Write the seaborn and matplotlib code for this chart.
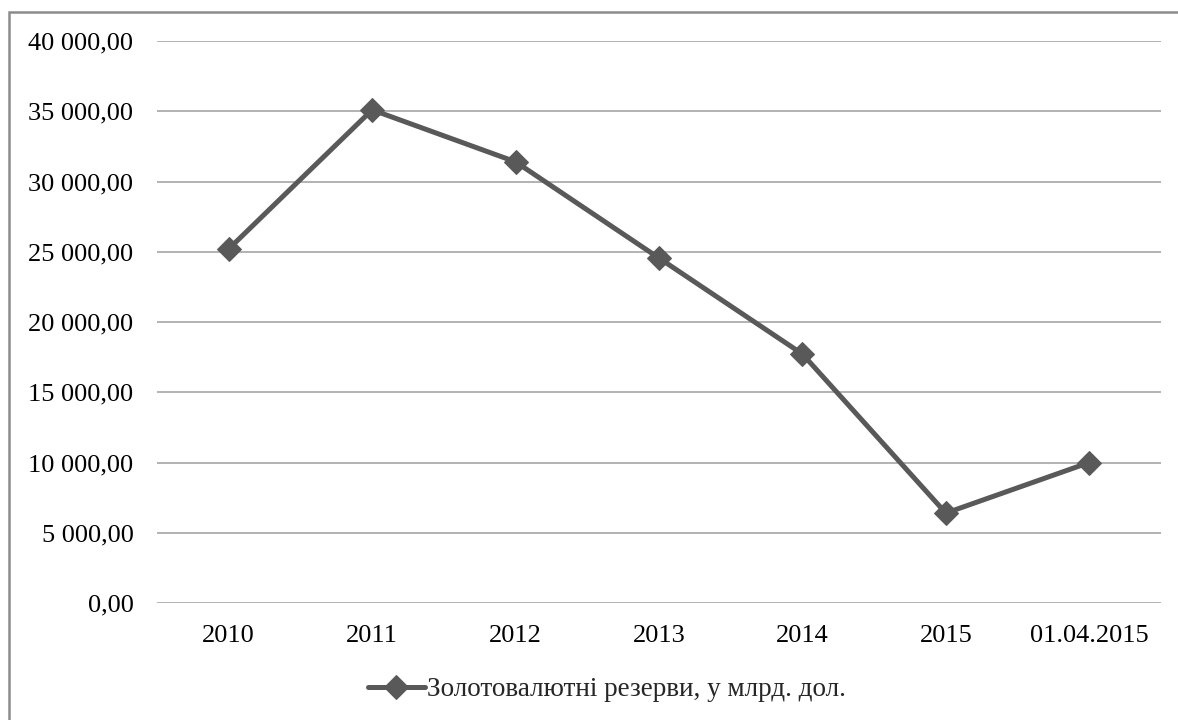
import matplotlib
matplotlib.use('Agg')
import matplotlib.pyplot as plt
import matplotlib.patches as mpatches
from matplotlib.ticker import FuncFormatter
import pandas as pd
import seaborn as sns

periods = ['2010', '2011', '2012', '2013', '2014', '2015', '01.04.2015']
reserves = [25200, 35100, 31400, 24550, 17720, 6400, 10000]
y_ticks = [0, 5000, 10000, 15000, 20000, 25000, 30000, 35000, 40000]
series_name = 'Золотовалютні резерви, у млрд. дол.'

df = pd.DataFrame({'period': periods, 'value': reserves})

sns.set_style('white')
plt.rcParams['font.family'] = ['Liberation Serif', 'DejaVu Serif']

fig = plt.figure(figsize=(11.78, 7.2), dpi=100)
ax = fig.add_axes([157 / 1178, 1 - 603 / 720, (1161 - 157) / 1178, (603 - 41) / 720])

# outer chart frame (only top and left edges visible in the picture)
fig.patches.append(mpatches.Rectangle((9 / 1178, -0.1), 1.2, 1 - 12 / 720 + 0.1,
                                      transform=fig.transFigure, fill=False,
                                      edgecolor='#8c8c8c', linewidth=1.8))

sns.lineplot(data=df, x='period', y='value', sort=False, ax=ax,
             color='#595959', linewidth=3.6, marker='D', markersize=12,
             markeredgecolor='#595959', label=series_name)

ax.set_xlim(-0.5, len(periods) - 0.5)
ax.set_ylim(0, 40000)
ax.set_yticks(y_ticks)
ax.yaxis.set_major_formatter(FuncFormatter(
    lambda v, p: f'{v:,.2f}'.replace(',', ' ').replace('.', ',')))
ax.grid(axis='y', color='#a6a6a6', linewidth=1.2)
ax.set_axisbelow(True)
for s in ax.spines.values():
    s.set_visible(False)
ax.tick_params(axis='both', length=0, labelsize=19, labelcolor='black')
ax.tick_params(axis='x', pad=16)
ax.tick_params(axis='y', pad=17)
ax.set_xlabel('')
ax.set_ylabel('')

ax.legend(loc='center', bbox_to_anchor=(607 / 1178, 1 - 690 / 720),
          bbox_transform=fig.transFigure, frameon=False, fontsize=19.5,
          handlelength=2.1, handletextpad=0.1)

fig.savefig('out.png', dpi=100, facecolor='white')
